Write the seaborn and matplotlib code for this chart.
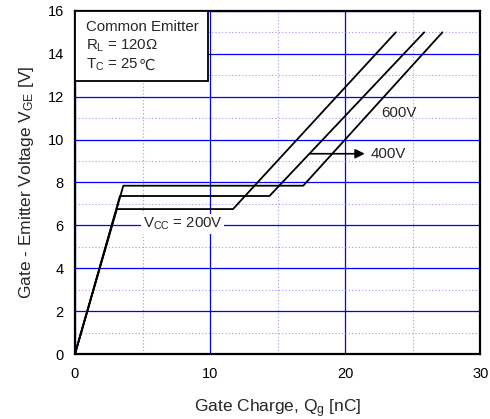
"""Gate charge characteristics chart"""
import matplotlib
matplotlib.use("Agg")
import matplotlib.pyplot as plt
import seaborn as sns
import pandas as pd
from matplotlib.ticker import MultipleLocator
from matplotlib.patches import Rectangle

# Gate charge curves (Qg [nC], VGE [V]) per supply voltage
q_200 = [0, 3.1, 11.7, 23.75]
v_200 = [0, 6.76, 6.76, 15.0]
q_400 = [0, 3.33, 14.4, 25.85]
v_400 = [0, 7.37, 7.37, 15.0]
q_600 = [0, 3.58, 16.9, 27.2]
v_600 = [0, 7.85, 7.85, 15.0]

x_ticks = [0, 10, 20, 30]
y_ticks = [0, 2, 4, 6, 8, 10, 12, 14, 16]

sns.set_theme(style="white")
plt.rcParams['font.family'] = ['Liberation Sans', 'DejaVu Sans']
plt.rcParams['mathtext.default'] = 'regular'

curves = []
for label, q, v in [("200V", q_200, v_200), ("400V", q_400, v_400), ("600V", q_600, v_600)]:
    for qi, vi in zip(q, v):
        curves.append({"Vcc": label, "Qg": qi, "VGE": vi})
df = pd.DataFrame(curves)

fig = plt.figure(figsize=(4.9, 4.19), dpi=100)
ax = fig.add_axes([0.153, 0.155, 0.827, 0.819])

# grid
ax.xaxis.set_major_locator(MultipleLocator(10))
ax.xaxis.set_minor_locator(MultipleLocator(5))
ax.yaxis.set_major_locator(MultipleLocator(2))
ax.yaxis.set_minor_locator(MultipleLocator(1))
ax.grid(which="major", color="#0000ff", linewidth=0.9, linestyle="-")
ax.grid(which="minor", color="#9999ff", linewidth=0.8, linestyle=(0, (1, 2)))
ax.set_axisbelow(True)

sns.lineplot(data=df, x="Qg", y="VGE", units="Vcc", estimator=None, sort=False,
             color="black", linewidth=1.3, ax=ax, legend=False)

ax.set_xlim(0, 30)
ax.set_ylim(0, 16)
ax.set_xticks(x_ticks)
ax.set_yticks(y_ticks)
ax.tick_params(axis="both", which="major", labelsize=10.5, colors="black", length=0)
ax.tick_params(axis="x", which="major", pad=9)
ax.tick_params(axis="y", which="major", pad=8)
ax.tick_params(axis="both", which="minor", length=0)

for spine in ax.spines.values():
    spine.set_color("black")
    spine.set_linewidth(1.6)

ax.set_xlabel("Gate Charge, Q$_g$ [nC]", fontsize=12.5, labelpad=12)
ax.set_ylabel("Gate - Emitter Voltage V$_{GE}$ [V]", fontsize=12.5, labelpad=8)

# condition box in the top-left corner
ax.add_patch(Rectangle((0, 12.75), 9.87, 3.25, facecolor="white", edgecolor="black",
                       linewidth=1.3, zorder=3))
ax.text(0.8, 15.25, "Common Emitter", fontsize=10.8, ha="left", va="center", zorder=4)
ax.text(0.8, 14.37, "R$_L$ = 120Ω", fontsize=10.8, ha="left", va="center", zorder=4)
t_c = ax.text(0.8, 13.48, "T$_C$ = 25", fontsize=10.8, ha="left", va="center", zorder=4)
ax.annotate("℃", xy=(1.0, 0.5), xycoords=t_c, xytext=(0.5, 0), textcoords="offset points",
            fontsize=10.5, ha="left", va="center", family=['DejaVu Sans'], zorder=4)

# curve labels
ax.text(5.0, 6.06, "V$_{CC}$ = 200V", fontsize=10.8, ha="left", va="center",
        bbox=dict(boxstyle="square,pad=0.1", facecolor="white", edgecolor="none"))
ax.text(22.7, 11.24, "600V", fontsize=10.8, ha="left", va="center")
ax.annotate("400V", xy=(17.36, 9.34), xytext=(21.9, 9.34), fontsize=10.8,
            ha="left", va="center",
            arrowprops=dict(arrowstyle="<|-", color="black", lw=1.2,
                            mutation_scale=14, shrinkA=2, shrinkB=0))

fig.savefig("out.png", dpi=100)
